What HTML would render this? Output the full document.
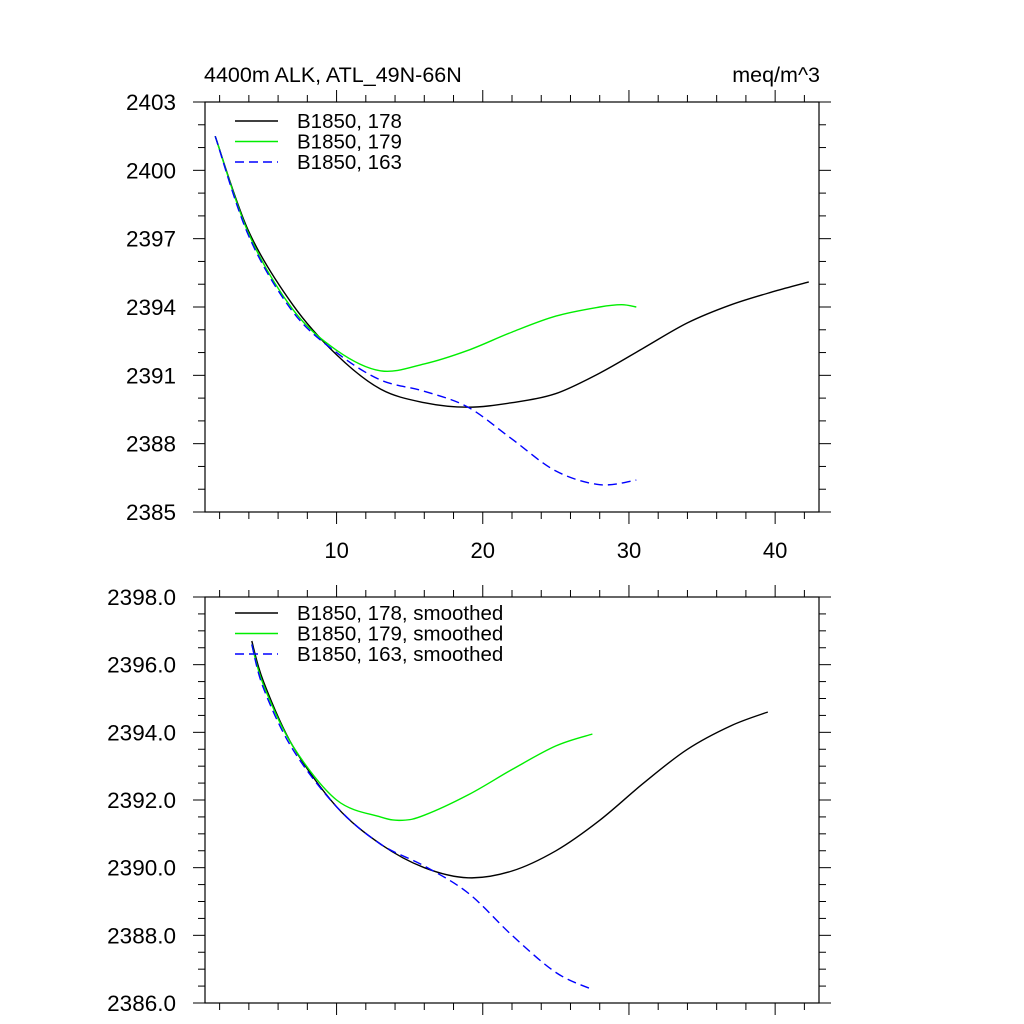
<!DOCTYPE html>
<html><head><meta charset="utf-8"><style>
html,body{margin:0;padding:0;background:#fff;}
svg{display:block;font-family:"Liberation Sans",sans-serif;}
</style></head><body>
<svg id="chart" width="1024" height="1024" viewBox="0 0 1024 1024"></svg>
<script>
// ---- data ----
const topX178 = [1.7,4,7,10,13,16,19,22,25,28,31,34,37,40,42.3];
const topY178 = [2401.5,2397.3,2394.1,2391.9,2390.4,2389.8,2389.6,2389.8,2390.2,2391.1,2392.2,2393.3,2394.1,2394.7,2395.1];
const topX179 = [1.7,4,7,10,13,16,19,22,25,28,29.5,30.5];
const topY179 = [2401.5,2397.2,2393.9,2392.1,2391.2,2391.5,2392.1,2392.9,2393.6,2394.0,2394.1,2394.0];
const topX163 = [1.7,4,7,10,13,16,19,22,25,28,30.5];
const topY163 = [2401.5,2397.1,2393.8,2392.0,2390.8,2390.3,2389.6,2388.2,2386.8,2386.2,2386.4];
const botX178 = [4.2,5,7,10,13,16,19,22,25,28,31,34,37,39.5];
const botY178 = [2396.7,2395.5,2393.6,2391.8,2390.7,2390.0,2389.7,2389.9,2390.5,2391.4,2392.5,2393.5,2394.2,2394.6];
const botX179 = [4.2,5,7,10,13,14.5,16,19,22,25,27.5];
const botY179 = [2396.6,2395.4,2393.6,2392.0,2391.5,2391.4,2391.55,2392.15,2392.9,2393.6,2393.95];
const botX163 = [4.2,5,7,10,13,16,19,22,25,27.5];
const botY163 = [2396.6,2395.3,2393.5,2391.8,2390.7,2390.05,2389.25,2388.0,2386.9,2386.4];
const xTicks = [10,20,30,40];
const topYTicks = [2385,2388,2391,2394,2397,2400,2403];
const botYTicks = ["2386.0","2388.0","2390.0","2392.0","2394.0","2396.0","2398.0"];

const NS="http://www.w3.org/2000/svg";
const svg=document.getElementById('chart');
function mk(tag,attrs,parent){const e=document.createElementNS(NS,tag);for(const k in attrs)e.setAttribute(k,attrs[k]);(parent||svg).appendChild(e);return e;}
const L=205,R=819,XMIN=1,XMAX=43;
const sx=x=>L+(x-XMIN)*(R-L)/(XMAX-XMIN);
function smoothPath(pts){
  let d='M'+pts[0][0].toFixed(1)+','+pts[0][1].toFixed(1);
  for(let i=0;i<pts.length-1;i++){
    const p0=pts[Math.max(0,i-1)],p1=pts[i],p2=pts[i+1],p3=pts[Math.min(pts.length-1,i+2)];
    const c1x=p1[0]+(p2[0]-p0[0])/6,c1y=p1[1]+(p2[1]-p0[1])/6;
    const c2x=p2[0]-(p3[0]-p1[0])/6,c2y=p2[1]-(p3[1]-p1[1])/6;
    d+=' C'+c1x.toFixed(1)+','+c1y.toFixed(1)+' '+c2x.toFixed(1)+','+c2y.toFixed(1)+' '+p2[0].toFixed(1)+','+p2[1].toFixed(1);
  }
  return d;
}

function panel(name,T,B,ymin,ymax,ymajor,yminor,ylabels,showXLabels,series,legend,ly){
  const g=mk('g',{});
  
  
  const sy=y=>B-(y-ymin)*(B-T)/(ymax-ymin);
  const tg=mk('g',{stroke:'#000','stroke-width':1},g);
  
  
  for(let x=2;x<=XMAX;x+=2){const px=sx(x);const len=(x%10===0)?12:7;
    mk('line',{x1:px,x2:px,y1:B,y2:B+len},tg);mk('line',{x1:px,x2:px,y1:T,y2:T-len},tg);}
  for(let v=ymin;v<=ymax+1e-6;v+=yminor){const py=sy(v);const maj=Math.abs(((v-ymin)/ymajor)-Math.round((v-ymin)/ymajor))<1e-6;const len=maj?12:7;
    mk('line',{x1:L,x2:L-len,y1:py,y2:py},tg);mk('line',{x1:R,x2:R+len,y1:py,y2:py},tg);}
  const fr=mk('rect',{x:L,y:T,width:R-L,height:B-T,fill:'none',stroke:'#000','stroke-width':1.2},g);
  
  
  ylabels.forEach((lab,i)=>{const t=mk('text',{x:176,y:sy(ymin+i*ymajor)+8,'text-anchor':'end','font-size':22.5},g);t.textContent=lab;
    
    });
  if(showXLabels){xTicks.forEach(v=>{const t=mk('text',{x:sx(v),y:558,'text-anchor':'middle','font-size':22},g);t.textContent=v;
    
    });}
  series.forEach((s,i)=>{
    const d=smoothPath(s.xs.map((x,j)=>[sx(x),sy(s.ys[j])]));
    const p=mk('path',{d:d,fill:'none',stroke:s.c,'stroke-width':1.4,'stroke-dasharray':s.dash||'none'},g);
    
    
    const y=ly+i*20.5;
    const ll=mk('line',{x1:235,x2:278,y1:y,y2:y,stroke:s.c,'stroke-width':1.4,'stroke-dasharray':s.dash||'none'},g);
    
    
    const t=mk('text',{x:297,y:y+7,'font-size':20.5},g);t.textContent=legend[i];
    
    
  });
}
panel('top-panel',102,512,2385,2403,3,1,topYTicks.map(String),true,
  [{id:'178',xs:topX178,ys:topY178,c:'#000'},{id:'179',xs:topX179,ys:topY179,c:'#00ee00'},{id:'163',xs:topX163,ys:topY163,c:'#0000ff',dash:'9,5'}],
  ['B1850, 178','B1850, 179','B1850, 163'],121);
panel('bottom-panel',597,1003,2386,2398,2,0.5,botYTicks,false,
  [{id:'178',xs:botX178,ys:botY178,c:'#000'},{id:'179',xs:botX179,ys:botY179,c:'#00ee00'},{id:'163',xs:botX163,ys:botY163,c:'#0000ff',dash:'9,5'}],
  ['B1850, 178, smoothed','B1850, 179, smoothed','B1850, 163, smoothed'],613);
const t1=mk('text',{x:204,y:82,'font-size':21.5});t1.textContent='4400m ALK, ATL_49N-66N';


const t2=mk('text',{x:820,y:82,'font-size':21.5,'text-anchor':'end'});t2.textContent='meq/m^3';


</script>
</body></html>
